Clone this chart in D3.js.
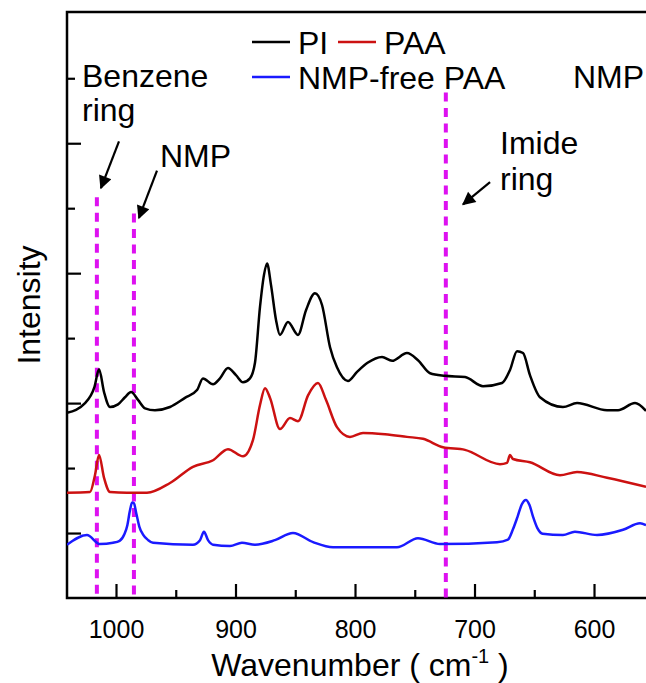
<!DOCTYPE html>
<html>
<head>
<meta charset="utf-8">
<script src="https://cdn.jsdelivr.net/npm/d3@7.9.0/dist/d3.min.js"></script>
<style>
  body { margin: 0; background: #fff; }
  svg { display: block; font-family: "Liberation Sans", Arial, sans-serif; }
</style>
</head>
<body>
<svg id="chart" width="646" height="683"></svg>
<script>
// spectra (wavenumber in cm-1, intensity in arbitrary units)
const piWn = [1041, 1025.9, 1018, 1014.2, 1010, 1005, 998.3, 992.5, 987.4, 981.6, 975.7, 967.4, 954.8, 942.3, 932.2, 927.2, 918.8, 913, 906.3, 899.6, 893.7, 887.9, 883.7, 879.5, 876.2, 873.6, 870.3, 866.1, 862.8, 856.1, 847.7, 841, 833.5, 827.6, 820.9, 815.1, 805.9, 798.3, 789.5, 777.4, 769, 756.5, 747.3, 737.2, 724.7, 707.9, 692.9, 677, 670.3, 664.4, 659.4, 653.6, 645.2, 626, 614.2, 589.1, 579.9, 565.7, 556.5];
const piInt = [1.85, 2.0, 2.25, 2.52, 2.17, 1.94, 1.98, 2.09, 2.17, 2.05, 1.92, 1.89, 1.94, 2.08, 2.2, 2.38, 2.29, 2.38, 2.54, 2.43, 2.32, 2.38, 2.62, 3.48, 3.97, 4.15, 3.82, 3.28, 3.05, 3.25, 3.05, 3.43, 3.69, 3.51, 2.86, 2.55, 2.34, 2.48, 2.62, 2.71, 2.65, 2.77, 2.66, 2.46, 2.42, 2.4, 2.26, 2.31, 2.51, 2.8, 2.77, 2.43, 2.09, 1.94, 2.0, 1.89, 1.89, 2.0, 1.88];

const paaWn = [1041, 1021.8, 1017.6, 1014.2, 1010, 1005, 990.8, 974.1, 954.8, 935.6, 918.8, 906.3, 893.7, 885.4, 879.5, 875.3, 871.1, 862.8, 854.4, 847.7, 839.3, 831, 824.3, 815.1, 804.2, 793.3, 774.9, 756.5, 743.1, 726.4, 708, 678.7, 672.8, 670.3, 667.8, 653.6, 628.5, 614.2, 589.1, 556.5];
const paaInt = [0.62, 0.63, 0.89, 1.2, 0.85, 0.63, 0.62, 0.62, 0.77, 1.02, 1.12, 1.29, 1.18, 1.43, 1.97, 2.23, 2.08, 1.6, 1.77, 1.72, 2.12, 2.31, 2.05, 1.63, 1.48, 1.54, 1.52, 1.48, 1.45, 1.32, 1.28, 1.06, 1.08, 1.2, 1.14, 1.09, 0.89, 0.94, 0.85, 0.71];

const freeWn = [1041, 1024.3, 1013.4, 1002.5, 997, 993, 990.5, 988.5, 986.5, 985, 983, 980.5, 977.5, 973, 969, 935.6, 929.7, 926.4, 923, 918.8, 904.6, 894.6, 883.7, 867, 851.9, 835.1, 818.4, 764.9, 747.3, 728.9, 681.2, 672, 668, 664, 660.5, 657, 654, 651, 647.5, 643, 626, 616, 597.5, 575.7, 561.5, 556.5];
const freeInt = [-0.18, -0.03, -0.17, -0.15, -0.12, -0.02, 0.12, 0.33, 0.47, 0.46, 0.3, 0.1, -0.02, -0.11, -0.15, -0.18, -0.11, 0.02, -0.11, -0.18, -0.2, -0.15, -0.18, -0.11, 0.0, -0.14, -0.22, -0.22, -0.08, -0.17, -0.14, -0.1, 0.05, 0.25, 0.44, 0.51, 0.43, 0.25, 0.08, -0.01, -0.03, 0.02, -0.03, 0.05, 0.15, 0.12];

const xMajor = [1000, 900, 800, 700, 600];
const xMinor = [950, 850, 750, 650];
const yMajor = [0, 2, 4, 6];
const yMinor = [1, 3, 5, 7];

// marker lines: wavenumber and where the dashed line starts
const markWn = [1016, 985, 724];
const markTop = [5.17, 4.92, 6.78];

// arrows [from wn, from int, to wn, to int]
const arrows = [
  [997.5, 6.03, 1012.6, 5.31],
  [965.7, 5.58, 980.8, 4.85],
  [687, 5.4, 709.6, 5.06]
];

const svg = d3.select("#chart");
const mLeft = 67, mRight = 646, mTop = 12, mBottom = 598;

const x = d3.scaleLinear().domain([1041, 556.5]).range([mLeft, mRight]);
const y = d3.scaleLinear().domain([-1, 8.02]).range([mBottom, mTop]);

const defs = svg.append("defs");
defs.append("clipPath").attr("id", "clip")
  .append("rect").attr("x", mLeft).attr("y", mTop).attr("width", mRight - mLeft).attr("height", mBottom - mTop);

defs.append("marker")
  .attr("id", "head").attr("viewBox", "0 0 10 10")
  .attr("refX", 9).attr("refY", 5)
  .attr("markerWidth", 8).attr("markerHeight", 6)
  .attr("markerUnits", "strokeWidth")
  .attr("orient", "auto")
  .append("path").attr("d", "M0,0 L10,5 L0,10 z").attr("fill", "#000");

// axes
let xAx = svg.append("g").attr("transform", `translate(0,${mBottom})`)
  .call(d3.axisBottom(x).tickValues(xMajor).tickSize(-14).tickPadding(22).tickFormat(d3.format("d")));
svg.append("g").attr("transform", `translate(0,${mBottom})`)
  .call(d3.axisBottom(x).tickValues(xMinor).tickSize(-8).tickFormat(""));
svg.append("g").attr("transform", `translate(${mLeft},0)`)
  .call(d3.axisLeft(y).tickValues(yMajor).tickSize(-14).tickFormat(""));
svg.append("g").attr("transform", `translate(${mLeft},0)`)
  .call(d3.axisLeft(y).tickValues(yMinor).tickSize(-8).tickFormat(""));

svg.selectAll(".domain").remove();
svg.selectAll(".tick line").attr("stroke", "#000").attr("stroke-width", 2.2);
xAx.selectAll(".tick text").attr("font-size", 25).attr("fill", "#000")
  .attr("font-family", "Liberation Sans, Arial, sans-serif");

// frame (right side is cut off)
svg.append("path")
  .attr("d", `M${mRight},${mTop} L${mLeft},${mTop} L${mLeft},${mBottom} L${mRight},${mBottom}`)
  .attr("fill", "none").attr("stroke", "#000").attr("stroke-width", 2.5);

// dashed marker lines
markWn.forEach((w, i) => {
  svg.append("line")
    .attr("x1", x(w)).attr("x2", x(w))
    .attr("y1", y(markTop[i])).attr("y2", mBottom)
    .attr("stroke", "#dd11f0").attr("stroke-width", 4)
    .attr("stroke-dasharray", "9,6.5");
});

// spectra
const line = d3.line().x(d => x(d[0])).y(d => y(d[1])).curve(d3.curveMonotoneX);
const series = [
  { wn: piWn, val: piInt, color: "#000000" },
  { wn: paaWn, val: paaInt, color: "#cc1111" },
  { wn: freeWn, val: freeInt, color: "#1a1aff" }
];
series.forEach(s => {
  svg.append("path")
    .attr("d", line(s.wn.map((w, i) => [w, s.val[i]])))
    .attr("clip-path", "url(#clip)")
    .attr("fill", "none").attr("stroke", s.color).attr("stroke-width", 2.5)
    .attr("stroke-linejoin", "round");
});

// arrows
arrows.forEach(a => {
  svg.append("line")
    .attr("x1", x(a[0])).attr("y1", y(a[1]))
    .attr("x2", x(a[2])).attr("y2", y(a[3]))
    .attr("stroke", "#000").attr("stroke-width", 2.2)
    .attr("marker-end", "url(#head)");
});

// annotation texts
const txt = (tx, ty, s, size) => svg.append("text")
  .attr("x", tx).attr("y", ty).attr("font-size", size || 32).attr("fill", "#000").text(s);

txt(82, 87, "Benzene");
txt(82, 121, "ring");
txt(160, 167, "NMP");
txt(500, 154, "Imide");
txt(500, 190, "ring");
txt(573, 88, "NMP");

// legend
const legend = [
  { label: "PI", color: "#000000", lx: 252, ly: 42 },
  { label: "PAA", color: "#cc1111", lx: 338, ly: 42 },
  { label: "NMP-free PAA", color: "#1a1aff", lx: 252, ly: 77 }
];
legend.forEach(d => {
  svg.append("line").attr("x1", d.lx).attr("x2", d.lx + 38)
    .attr("y1", d.ly).attr("y2", d.ly)
    .attr("stroke", d.color).attr("stroke-width", 2.5);
  txt(d.lx + 46, d.ly + 12, d.label);
});

// axis titles
const xt = svg.append("text").attr("x", 360).attr("y", 676)
  .attr("text-anchor", "middle").attr("font-size", 32).attr("fill", "#000");
xt.append("tspan").text("Wavenumber ( cm");
xt.append("tspan").attr("font-size", 20).attr("dy", -13).text("-1");
xt.append("tspan").attr("dy", 13).text(" )");

svg.append("text")
  .attr("transform", "translate(40,305) rotate(-90)")
  .attr("text-anchor", "middle").attr("font-size", 32).attr("fill", "#000")
  .text("Intensity");
</script>
</body>
</html>
